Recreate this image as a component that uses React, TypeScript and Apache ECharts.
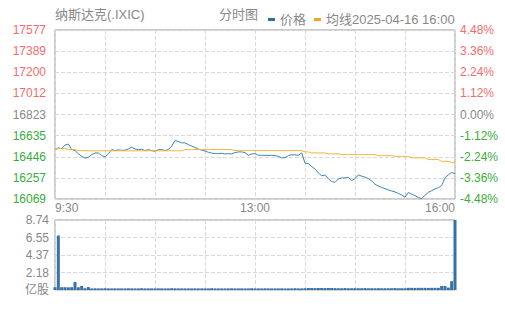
import React, { useEffect, useRef } from "react";
import * as echarts from "echarts";

const titleText = "纳斯达克(.IXIC)";
const modeText = "分时图";
const dateText = "2025-04-16 16:00";
const seriesNames = ["价格", "均线"];

const priceLabels = ["16069", "16257", "16446", "16635", "16823", "17012", "17200", "17389", "17577"];
const pctLabels = ["-4.48%", "-3.36%", "-2.24%", "-1.12%", "0.00%", "1.12%", "2.24%", "3.36%", "4.48%"];
const timeLabels = ["9:30", "13:00", "16:00"];
const volLabels = ["亿股", "2.18", "4.37", "6.55", "8.74"];
const priceMin = 16069;
const priceMax = 17577;
const volMax = 8.74;
const volStep = 2.185;

const price = [
  16510, 16525, 16519, 16550, 16559, 16510, 16501, 16472, 16450, 16434,
  16441, 16465, 16480, 16480, 16456, 16445, 16472, 16510, 16501, 16507,
  16504, 16504, 16516, 16531, 16516, 16510, 16513, 16501, 16510, 16501,
  16495, 16510, 16510, 16501, 16510, 16540, 16591, 16582, 16570, 16570,
  16555, 16541, 16528, 16514, 16505, 16497, 16486, 16479, 16474, 16474,
  16477, 16471, 16474, 16471, 16483, 16489, 16489, 16483, 16459, 16470,
  16474, 16459, 16459, 16459, 16456, 16459, 16456, 16450, 16436, 16438,
  16456, 16463, 16463, 16459, 16480, 16389, 16385, 16358, 16336, 16302,
  16277, 16282, 16251, 16224, 16218, 16248, 16257, 16257, 16262, 16233,
  16251, 16284, 16273, 16264, 16251, 16230, 16201, 16185, 16172, 16161,
  16150, 16141, 16132, 16119, 16105, 16085, 16127, 16112, 16099, 16083,
  16072, 16103, 16128, 16143, 16159, 16170, 16188, 16260, 16284, 16306,
  16295,
];

const avgPrice = [
  16510, 16519, 16519, 16519, 16510, 16510, 16510, 16501, 16501, 16501,
  16499, 16499, 16499, 16499, 16499, 16499, 16499, 16499, 16499, 16499,
  16499, 16499, 16499, 16499, 16499, 16499, 16499, 16499, 16499, 16499,
  16499, 16499, 16499, 16499, 16499, 16499, 16499, 16499, 16499, 16510,
  16510, 16510, 16510, 16510, 16510, 16510, 16510, 16510, 16510, 16510,
  16510, 16510, 16510, 16510, 16501, 16501, 16501, 16501, 16501, 16501,
  16501, 16501, 16501, 16501, 16501, 16501, 16501, 16501, 16501, 16501,
  16501, 16501, 16501, 16501, 16501, 16489, 16489, 16480, 16480, 16480,
  16480, 16480, 16472, 16472, 16472, 16472, 16465, 16465, 16465, 16465,
  16465, 16465, 16465, 16465, 16465, 16465, 16465, 16456, 16456, 16456,
  16456, 16456, 16450, 16450, 16450, 16450, 16450, 16436, 16436, 16436,
  16436, 16436, 16421, 16421, 16421, 16421, 16405, 16405, 16405, 16396,
  16396,
];

const volume = [
  0.35, 6.8, 0.35, 0.35, 0.33, 0.35, 1.0, 0.34, 0.5, 0.22,
  0.37, 0.2, 0.21, 0.2, 0.2, 0.22, 0.2, 0.2, 0.21, 0.2,
  0.2, 0.2, 0.21, 0.2, 0.2, 0.2, 0.22, 0.2, 0.2, 0.2,
  0.2, 0.21, 0.2, 0.2, 0.2, 0.22, 0.21, 0.2, 0.2, 0.2,
  0.2, 0.2, 0.21, 0.2, 0.2, 0.2, 0.2, 0.22, 0.2, 0.2,
  0.2, 0.2, 0.2, 0.21, 0.2, 0.2, 0.2, 0.2, 0.2, 0.22,
  0.2, 0.2, 0.2, 0.21, 0.2, 0.2, 0.2, 0.2, 0.21, 0.2,
  0.2, 0.2, 0.22, 0.2, 0.2, 0.22, 0.25, 0.25, 0.24, 0.25,
  0.25, 0.24, 0.25, 0.25, 0.23, 0.22, 0.22, 0.24, 0.22, 0.22,
  0.23, 0.22, 0.22, 0.24, 0.22, 0.22, 0.22, 0.23, 0.22, 0.22,
  0.22, 0.22, 0.24, 0.22, 0.22, 0.22, 0.27, 0.27, 0.26, 0.27,
  0.27, 0.27, 0.26, 0.27, 0.27, 0.27, 0.5, 0.5, 0.3, 1.1,
  8.74,
];

const RED = "#f56c6c";
const GREEN = "#39ad39";
const GRAY = "#888888";
const FONT = "'Liberation Sans', 'Noto Sans CJK SC', sans-serif";

function levelColor(i: number) {
  if (i > 4) return RED;
  if (i < 4) return GREEN;
  return GRAY;
}

export default function App() {
  const ref = useRef<HTMLDivElement>(null);

  useEffect(() => {
    if (!ref.current) return;
    const chart = echarts.init(ref.current, null, { renderer: "svg" });
    const xData = price.map((_, i) => String(i));
    const labelStep = (price.length - 1) / (timeLabels.length - 1);
    const splitStep = (price.length - 1) / 8;

    const option: any = {
      animation: false,
      textStyle: { fontFamily: FONT },
      graphic: [
        {
          type: "text",
          left: 55,
          top: 8,
          style: { text: titleText, fill: GRAY, font: `13px ${FONT}` },
        },
        {
          type: "text",
          left: 219,
          top: 8,
          style: { text: modeText, fill: GRAY, font: `13px ${FONT}` },
        },
      ],
      legend: {
        left: 263,
        top: 8,
        icon: "rect",
        itemWidth: 7,
        itemHeight: 3,
        itemGap: 8,
        textStyle: { color: GRAY, fontSize: 13, fontFamily: FONT },
        data: seriesNames,
        formatter: (name: string) => (name === seriesNames[1] ? name + dateText : name),
      },
      grid: [
        { left: 55, top: 30, width: 400, height: 169, show: true, borderColor: "#999", borderWidth: 1 },
        { left: 55, top: 220, width: 400, height: 70, show: true, borderColor: "#999", borderWidth: 1 },
      ],
      xAxis: [
        {
          type: "category",
          gridIndex: 0,
          data: xData,
          boundaryGap: false,
          axisLine: { show: false },
          axisTick: { show: false },
          axisLabel: {
            color: GRAY,
            fontSize: 12,
            margin: 3,
            interval: (i: number) => i % labelStep === 0,
            formatter: (_v: string, i: number) => timeLabels[i / labelStep] ?? "",
            alignMinLabel: "left",
            alignMaxLabel: "right",
          },
          splitLine: {
            show: true,
            interval: (i: number) => i % splitStep === 0,
            lineStyle: { color: "#d9d9d9", type: "dashed" },
          },
        },
        {
          type: "category",
          gridIndex: 1,
          data: xData,
          boundaryGap: false,
          axisLine: { show: false },
          axisTick: { show: false },
          axisLabel: { show: false },
          splitLine: {
            show: true,
            interval: (i: number) => i % splitStep === 0,
            lineStyle: { color: "#d9d9d9", type: "dashed" },
          },
        },
      ],
      yAxis: [
        {
          type: "category",
          gridIndex: 0,
          position: "left",
          data: priceLabels,
          boundaryGap: false,
          axisLine: { show: false },
          axisTick: { show: false },
          axisLabel: {
            fontSize: 12,
            margin: 9,
            interval: 0,
            color: (v: string) => levelColor(priceLabels.indexOf(v)),
          },
          splitLine: { show: true, interval: 0, lineStyle: { color: "#d9d9d9", type: "dashed" } },
        },
        {
          type: "category",
          gridIndex: 0,
          position: "right",
          data: pctLabels,
          boundaryGap: false,
          axisLine: { show: false },
          axisTick: { show: false },
          axisLabel: {
            fontSize: 12,
            margin: 5,
            interval: 0,
            color: (v: string) => levelColor(pctLabels.indexOf(v)),
          },
          splitLine: { show: false },
        },
        {
          type: "value",
          gridIndex: 0,
          min: priceMin,
          max: priceMax,
          show: false,
          splitLine: { show: false },
        },
        {
          type: "value",
          gridIndex: 1,
          min: 0,
          max: volMax,
          interval: volStep,
          axisLine: { show: false },
          axisTick: { show: false },
          axisLabel: {
            color: GRAY,
            fontSize: 12,
            margin: 6,
            formatter: (v: number) => volLabels[Math.round(v / volStep)] ?? "",
          },
          splitLine: { show: true, lineStyle: { color: "#d9d9d9", type: "dashed" } },
        },
      ],
      series: [
        {
          name: seriesNames[0],
          type: "line",
          xAxisIndex: 0,
          yAxisIndex: 2,
          data: price,
          showSymbol: false,
          symbol: "none",
          lineStyle: { color: "#3f83b8", width: 1 },
          itemStyle: { color: "#2b6ea6" },
        },
        {
          name: seriesNames[1],
          type: "line",
          xAxisIndex: 0,
          yAxisIndex: 2,
          data: avgPrice,
          showSymbol: false,
          symbol: "none",
          lineStyle: { color: "#f7b33c", width: 1 },
          itemStyle: { color: "#f5a623" },
        },
        {
          name: "成交量",
          type: "bar",
          xAxisIndex: 1,
          yAxisIndex: 3,
          data: volume,
          barCategoryGap: "10%",
          itemStyle: { color: "#3572aa" },
        },
      ],
    };
    chart.setOption(option);
    return () => chart.dispose();
  }, []);

  return (
    <div
      ref={ref}
      style={{ position: "fixed", left: 0, top: 0, width: 505, height: 310, background: "#fff" }}
    />
  );
}
